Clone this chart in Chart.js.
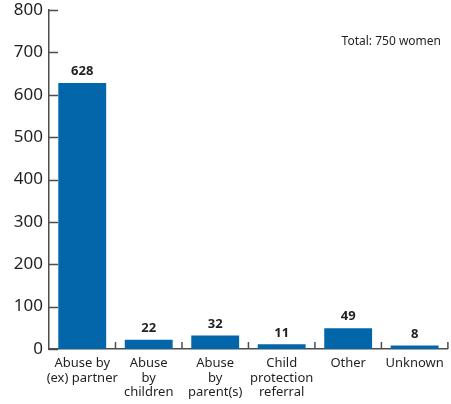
<!DOCTYPE html>
<html>
<head>
<meta charset="utf-8">
<script src="https://cdn.jsdelivr.net/npm/chart.js@4"></script>
<style>
  html, body { margin: 0; padding: 0; background: #fff; }
  canvas { display: block; }
</style>
</head>
<body>
<canvas id="chart" width="451" height="404"></canvas>
<script>
const CATEGORIES = [
    ['Abuse by', '(ex) partner'],
    ['Abuse', 'by', 'children'],
    ['Abuse', 'by', 'parent(s)'],
    ['Child', 'protection', 'referral'],
    ['Other'],
    ['Unknown']
]
const WOMEN = [628, 22, 32, 11, 49, 8]
const Y_TICKS = [0, 100, 200, 300, 400, 500, 600, 700, 800]
const NOTE = 'Total: 750 women'

const BAR_COLOR = '#0466aa'
const TEXT_COLOR = '#231f20'
const AXIS_COLOR = '#4d4d4d'
const FONT = '"Noto Sans", sans-serif'

// ticks point inward, value labels and the note
const extras = {
    id: 'extras',
    afterDatasetsDraw(chart) {
        const ctx = chart.ctx
        const x = chart.scales.x
        const y = chart.scales.y
        const area = chart.chartArea
        ctx.save()
        ctx.strokeStyle = AXIS_COLOR
        ctx.lineWidth = 1.5
        ctx.beginPath()
        Y_TICKS.forEach(v => {
            const py = Math.round(y.getPixelForValue(v)) + 0.5
            ctx.moveTo(area.left, py)
            ctx.lineTo(area.left + 9, py)
        })
        for (let i = 1; i <= CATEGORIES.length; i++) {
            const px = x.getPixelForValue(i - 0.5)
            ctx.moveTo(px, area.bottom)
            ctx.lineTo(px, area.bottom - 7)
        }
        ctx.stroke()

        ctx.fillStyle = TEXT_COLOR
        ctx.font = 'bold 13px ' + FONT
        ctx.textAlign = 'center'
        ctx.textBaseline = 'bottom'
        const meta = chart.getDatasetMeta(0)
        meta.data.forEach((bar, i) => {
            ctx.fillText(String(WOMEN[i]), bar.x, bar.y - 5)
        })

        ctx.font = '12px ' + FONT
        ctx.textAlign = 'right'
        ctx.textBaseline = 'middle'
        ctx.fillText(NOTE, 441, 42)
        ctx.restore()
    }
}

new Chart(document.getElementById('chart').getContext('2d'), {
    'type': 'bar',
    'data': {
        'labels': CATEGORIES,
        'datasets': [{
            'data': WOMEN,
            'backgroundColor': BAR_COLOR,
            'borderWidth': 0,
            'categoryPercentage': 0.72,
            'barPercentage': 1.0
        }]
    },
    'options': {
        'responsive': false,
        'animation': false,
        'layout': {
            'padding': { 'top': 10, 'right': 2, 'left': 0, 'bottom': 0 }
        },
        'plugins': {
            'legend': { 'display': false },
            'tooltip': { 'enabled': false }
        },
        'scales': {
            'x': {
                'grid': { 'display': false, 'drawTicks': false },
                'border': { 'display': true, 'color': AXIS_COLOR, 'width': 1.5 },
                'ticks': {
                    'color': TEXT_COLOR,
                    'font': { 'family': FONT, 'size': 13, 'lineHeight': 1.12 },
                    'padding': 7,
                    'maxRotation': 0,
                    'autoSkip': false
                },
                'afterFit': s => { s.height = 55 }
            },
            'y': {
                'min': 0,
                'max': 800,
                'grid': { 'display': false, 'drawTicks': false },
                'border': { 'display': true, 'color': AXIS_COLOR, 'width': 1.5 },
                'ticks': {
                    'stepSize': 100,
                    'color': TEXT_COLOR,
                    'font': { 'family': FONT, 'size': 17 },
                    'padding': 6
                },
                'afterFit': s => { s.width = 49; s.paddingTop = 0; s.paddingBottom = 0 }
            }
        }
    },
    'plugins': [extras]
})
</script>
</body>
</html>
